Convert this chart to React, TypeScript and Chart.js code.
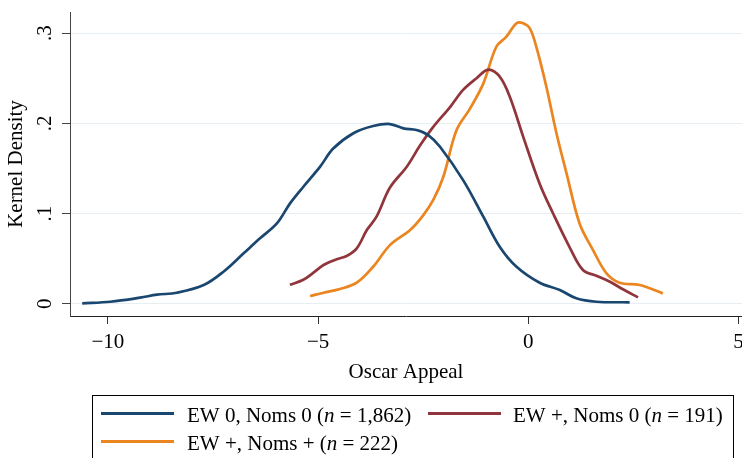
import React, { useEffect, useRef } from "react";
import { Chart, registerables } from "chart.js";
Chart.register(...registerables);

const X_TICKS = [-10, -5, 0, 5];
const X_TICK_LABELS = ["\u221210", "\u22125", "0", "5"];
const Y_TICKS = [0, 0.1, 0.2, 0.3];
const Y_TICK_LABELS = ["0", ".1", ".2", ".3"];
const X_TITLE = "Oscar Appeal";
const Y_TITLE = "Kernel Density";

const SERIES_LABELS = [
  "EW 0, Noms 0 (n = 1,862)",
  "EW +, Noms 0 (n = 191)",
  "EW +, Noms + (n = 222)",
];
const SERIES_COLORS = ["#1a476f", "#90353b", "#ea851f"];

const BLUE_X = [-10.61, -9.94, -9.23, -8.83, -8.36, -7.72, -7.25, -6.77, -6.38, -5.98, -5.67, -5.35, -4.95, -4.64, -4.16, -3.69, -3.29, -2.97, -2.66, -2.38, -2.10, -1.55, -1.07, -0.68, -0.28, 0.27, 0.75, 1.14, 1.62, 2.41];
const BLUE_Y = [0.0004, 0.0022, 0.0067, 0.0100, 0.0122, 0.0207, 0.0355, 0.0559, 0.0725, 0.089, 0.111, 0.1297, 0.152, 0.172, 0.189, 0.197, 0.1992, 0.1944, 0.1926, 0.187, 0.174, 0.137, 0.0965, 0.0632, 0.041, 0.0233, 0.0152, 0.006, 0.0022, 0.0016];

const RED_X = [-5.67, -5.35, -5.11, -4.87, -4.56, -4.32, -4.08, -3.84, -3.61, -3.29, -2.89, -2.58, -2.26, -1.86, -1.55, -1.23, -0.95, -0.68, -0.44, -0.12, 0.27, 0.59, 0.99, 1.30, 1.62, 1.94, 2.25, 2.61];
const RED_Y = [0.021, 0.0266, 0.0344, 0.0429, 0.0492, 0.0529, 0.0614, 0.0817, 0.0965, 0.1288, 0.1519, 0.175, 0.196, 0.218, 0.237, 0.25, 0.2595, 0.2517, 0.2295, 0.185, 0.133, 0.100, 0.062, 0.0374, 0.031, 0.0244, 0.016, 0.0071];

const ORANGE_X = [-5.19, -4.87, -4.48, -4.08, -3.69, -3.29, -2.81, -2.50, -2.26, -2.02, -1.71, -1.39, -1.07, -0.76, -0.52, -0.28, -0.12, 0.04, 0.19, 0.43, 0.67, 0.91, 1.22, 1.54, 1.86, 2.17, 2.65, 3.20];
const ORANGE_Y = [0.0085, 0.0122, 0.0163, 0.0233, 0.041, 0.065, 0.0817, 0.098, 0.115, 0.1408, 0.192, 0.216, 0.244, 0.2849, 0.296, 0.311, 0.311, 0.305, 0.285, 0.2406, 0.189, 0.1446, 0.089, 0.0595, 0.0337, 0.0233, 0.0207, 0.0115];

const SERIES_X = [BLUE_X, RED_X, ORANGE_X];
const SERIES_Y = [BLUE_Y, RED_Y, ORANGE_Y];

const FONT = '"Liberation Serif", "Times New Roman", serif';

const legendPlugin = {
  id: "boxLegend",
  afterDraw(chart: any) {
    const ctx = chart.ctx as CanvasRenderingContext2D;
    ctx.save();
    ctx.strokeStyle = "#000";
    ctx.lineWidth = 1;
    ctx.strokeRect(92.5, 395.5, 641, 90);
    const items = [
      { ds: 0, lx: 101, tx: 187, y: 413.5 },
      { ds: 1, lx: 428, tx: 513, y: 413.5 },
      { ds: 2, lx: 101, tx: 187, y: 441.5 },
    ];
    items.forEach((it) => {
      const ds = chart.data.datasets[it.ds];
      ctx.strokeStyle = ds.borderColor;
      ctx.lineWidth = 3;
      ctx.beginPath();
      ctx.moveTo(it.lx, it.y);
      ctx.lineTo(it.lx + 73, it.y);
      ctx.stroke();
      const label: string = ds.label;
      const i = label.indexOf("(n");
      const parts: [string, boolean][] = [
        [label.slice(0, i + 1), false],
        ["n", true],
        [label.slice(i + 2), false],
      ];
      let x = it.tx;
      ctx.fillStyle = "#000";
      ctx.textBaseline = "alphabetic";
      ctx.textAlign = "left";
      parts.forEach(([t, ital]) => {
        ctx.font = `${ital ? "italic " : ""}21px ${FONT}`;
        ctx.fillText(t, x, it.y + 8);
        x += ctx.measureText(t).width;
      });
    });
    ctx.restore();
  },
};

export default function App() {
  const ref = useRef<HTMLCanvasElement | null>(null);
  useEffect(() => {
    document.body.style.margin = "0";
    const canvas = ref.current!;
    const chart = new Chart(canvas, {
      type: "scatter",
      data: {
        datasets: SERIES_LABELS.map((label, k) => ({
          label,
          data: SERIES_X[k].map((x, j) => ({ x, y: SERIES_Y[k][j] })),
          showLine: true,
          borderColor: SERIES_COLORS[k],
          backgroundColor: SERIES_COLORS[k],
          borderWidth: 2.7,
          pointRadius: 0,
          tension: 0.35,
          fill: false,
        })),
      },
      options: {
        animation: false,
        responsive: false,
        devicePixelRatio: 1,
        layout: { padding: { top: 12, left: 0, right: 0, bottom: 73.4 } },
        plugins: {
          legend: { display: false },
          tooltip: { enabled: false },
        },
        scales: {
          x: {
            type: "linear",
            min: -10.9,
            max: 5.083,
            afterBuildTicks: (s: any) => {
              s.ticks = X_TICKS.map((v) => ({ value: v }));
            },
            afterFit: (s: any) => {
              s.height = 68.6;
              s.paddingLeft = 0;
              s.paddingRight = 0;
            },
            ticks: {
              callback: (v: any) => X_TICK_LABELS[X_TICKS.indexOf(Number(v))] ?? "",
              font: { family: FONT, size: 21 },
              color: "#000",
              padding: 6,
              maxRotation: 0,
              autoSkip: false,
            },
            grid: {
              drawOnChartArea: false,
              drawTicks: true,
              tickLength: 8,
              tickColor: "#333",
            },
            border: { display: true, color: "#222", width: 1 },
            title: {
              display: true,
              text: X_TITLE,
              font: { family: FONT, size: 21 },
              color: "#000",
              padding: { top: 0, bottom: 0 },
            },
          },
          y: {
            type: "linear",
            min: -0.0136,
            max: 0.3234,
            afterBuildTicks: (s: any) => {
              s.ticks = Y_TICKS.map((v) => ({ value: v }));
            },
            afterFit: (s: any) => {
              s.width = 70;
              s.paddingTop = 0;
              s.paddingBottom = 0;
            },
            ticks: {
              callback: (v: any) => Y_TICK_LABELS[Y_TICKS.indexOf(Number(v))] ?? "",
              font: { family: FONT, size: 21 },
              color: "#000",
              padding: 9,
              minRotation: 90,
              maxRotation: 90,
              crossAlign: "center",
              autoSkip: false,
            },
            grid: {
              color: "#e6eef3",
              lineWidth: 1,
              drawTicks: true,
              tickLength: 8,
              tickColor: "#444",
            },
            border: { display: true, color: "#444", width: 1 },
            title: {
              display: true,
              text: Y_TITLE,
              font: { family: FONT, size: 21 },
              color: "#000",
              padding: { top: 4, bottom: 0 },
            },
          },
        },
      },
      plugins: [legendPlugin],
    } as any);
    return () => chart.destroy();
  }, []);
  return (
    <div style={{ width: 742, height: 458, background: "#fff" }}>
      <canvas ref={ref} width={742} height={458} style={{ display: "block" }} />
    </div>
  );
}
